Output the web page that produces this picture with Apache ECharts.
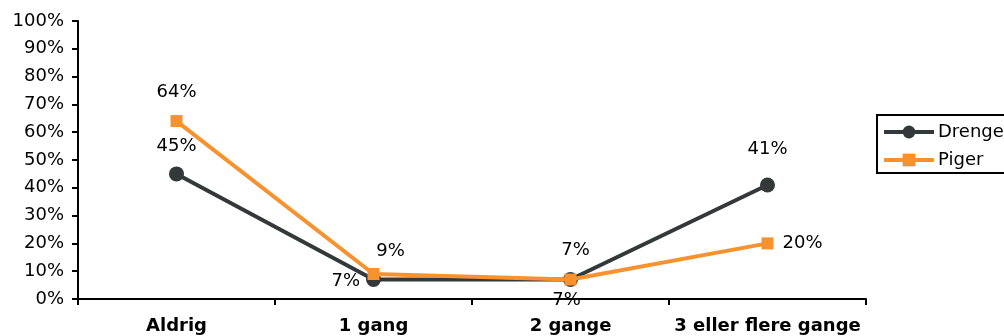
<!DOCTYPE html>
<html>
<head>
<meta charset="utf-8">
<script src="https://cdn.jsdelivr.net/npm/echarts@6/dist/echarts.min.js"></script>
<style>
  html, body { margin: 0; padding: 0; background: #fff; }
  #chart { width: 1004px; height: 336px; }
</style>
</head>
<body>
<div id="chart"></div>
<script>
const categories = ['Aldrig', '1 gang', '2 gange', '3 eller flere gange'];
const drenge = [45, 7, 7, 41];
const piger = [64, 9, 7, 20];

// label placement per point, as in the original
const drengeLabels = [
  { position: 'top', distance: 11 },
  { position: 'left', distance: 6, offset: [0, 2] },
  { position: 'bottom', distance: 4, offset: [-4, 0] },
  { position: 'top', distance: 19 }
];
const pigerLabels = [
  { position: 'top', distance: 14 },
  { position: 'top', distance: 8, offset: [17, 0] },
  { position: 'top', distance: 14, offset: [5, 0] },
  { position: 'right', distance: 9 }
];

const font = 'DejaVu Sans';

const chart = echarts.init(document.getElementById('chart'));
chart.setOption({
  animation: false,
  grid: { left: 78, right: 138, top: 21, bottom: 37 },
  legend: {
    orient: 'vertical',
    left: 877,
    top: 115,
    borderColor: '#000',
    borderWidth: 2,
    borderRadius: 0,
    padding: [8, 4, 4, 5],
    itemGap: 10,
    itemWidth: 50,
    itemHeight: 16,
    lineStyle: { width: 4 },
    textStyle: { fontFamily: font, fontSize: 18, color: '#000', padding: [0, 0, 0, -1] },
    data: ['Drenge', 'Piger']
  },
  xAxis: {
    type: 'category',
    data: categories,
    boundaryGap: true,
    axisLine: { lineStyle: { color: '#000', width: 2 } },
    axisTick: { show: true, length: 6, lineStyle: { color: '#000', width: 2 } },
    axisLabel: { interval: 0, color: '#000', fontWeight: 'bold', fontSize: 18, margin: 18, fontFamily: font }
  },
  yAxis: {
    type: 'value',
    min: 0,
    max: 100,
    interval: 10,
    splitLine: { show: false },
    axisLine: { show: true, lineStyle: { color: '#000', width: 2 } },
    axisTick: { show: true, length: 6, lineStyle: { color: '#000', width: 2 } },
    axisLabel: { color: '#000', fontSize: 18, margin: 14, formatter: '{value}%', fontFamily: font }
  },
  series: [
    {
      name: 'Drenge',
      type: 'line',
      data: drenge.map((v, i) => ({ value: v, label: drengeLabels[i] })),
      color: '#33393b',
      symbol: 'circle',
      symbolSize: 15,
      lineStyle: { width: 4 },
      label: { show: true, formatter: '{c}%', color: '#000', fontSize: 18, fontFamily: font },
      z: 2
    },
    {
      name: 'Piger',
      type: 'line',
      data: piger.map((v, i) => ({ value: v, label: pigerLabels[i] })),
      color: '#f7922e',
      symbol: 'rect',
      symbolSize: 12,
      lineStyle: { width: 4 },
      label: { show: true, formatter: '{c}%', color: '#000', fontSize: 18, fontFamily: font },
      z: 3
    }
  ]
});
</script>
</body>
</html>
